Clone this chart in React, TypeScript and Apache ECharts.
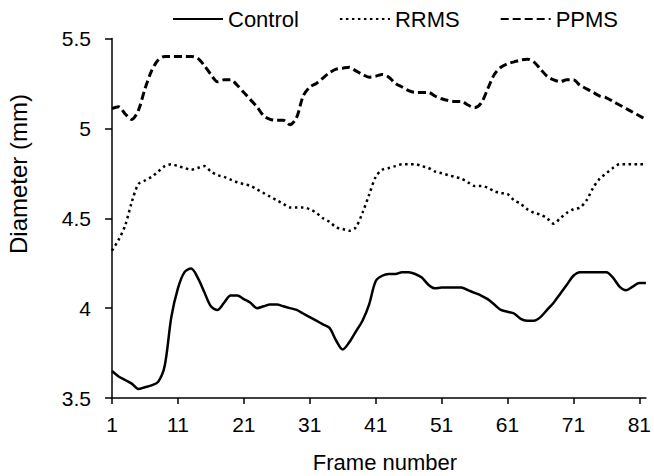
import React, { useEffect, useRef } from "react";
import * as echarts from "echarts";

const frames: string[] = Array.from({ length: 82 }, (_, i) => String(i + 1));

const control: number[] = [
  3.65, 3.62, 3.6, 3.58, 3.55, 3.56, 3.57, 3.59, 3.68, 3.95,
  4.11, 4.2, 4.22, 4.17, 4.09, 4.01, 3.99, 4.03, 4.07, 4.07,
  4.05, 4.03, 4.0, 4.01, 4.02, 4.02, 4.01, 4.0, 3.99, 3.97,
  3.95, 3.93, 3.91, 3.89, 3.82, 3.77, 3.81, 3.87, 3.93, 4.02,
  4.15, 4.18, 4.19, 4.19, 4.2, 4.2, 4.19, 4.17, 4.13, 4.11,
  4.115, 4.115, 4.115, 4.115, 4.1, 4.085, 4.07, 4.05, 4.02, 3.99,
  3.98, 3.97, 3.94, 3.93, 3.93, 3.95, 3.99, 4.03, 4.08, 4.13,
  4.18, 4.2, 4.2, 4.2, 4.2, 4.2, 4.17, 4.12, 4.1, 4.12,
  4.14, 4.14,
];

const rrms: number[] = [
  4.32, 4.38, 4.46, 4.59, 4.69, 4.71, 4.73, 4.76, 4.79, 4.8,
  4.79, 4.78, 4.77, 4.78, 4.79, 4.76, 4.74, 4.73, 4.715, 4.7,
  4.69, 4.68, 4.66, 4.64, 4.62, 4.6, 4.58, 4.56, 4.56, 4.56,
  4.55, 4.53, 4.5, 4.48, 4.45, 4.44, 4.43, 4.45, 4.53, 4.63,
  4.73, 4.77, 4.78, 4.79, 4.8, 4.8, 4.8, 4.79, 4.78, 4.76,
  4.75, 4.74, 4.73, 4.72, 4.7, 4.68, 4.68, 4.67, 4.65, 4.64,
  4.635, 4.6, 4.58, 4.55, 4.53, 4.52, 4.5, 4.47, 4.5, 4.53,
  4.55, 4.56, 4.6, 4.67, 4.72, 4.75, 4.78, 4.8, 4.8, 4.8,
  4.8, 4.8,
];

const ppms: number[] = [
  5.11, 5.12, 5.08, 5.05, 5.1, 5.22, 5.32, 5.38, 5.4, 5.4,
  5.4, 5.4, 5.4, 5.39, 5.35, 5.3, 5.26, 5.27, 5.27, 5.24,
  5.2, 5.16, 5.12, 5.07, 5.05, 5.045, 5.045, 5.02, 5.06, 5.18,
  5.23, 5.25, 5.28, 5.31, 5.33, 5.335, 5.34, 5.32, 5.3, 5.285,
  5.29, 5.3, 5.285, 5.25, 5.23, 5.21, 5.2, 5.2, 5.2, 5.18,
  5.165, 5.155, 5.15, 5.15, 5.13, 5.115, 5.14, 5.22, 5.3, 5.34,
  5.36, 5.37, 5.38, 5.385, 5.37, 5.33, 5.29, 5.27, 5.26, 5.27,
  5.27, 5.24, 5.22, 5.2, 5.18, 5.17, 5.15, 5.13, 5.11, 5.09,
  5.07, 5.05,
];

const seriesNames = ["Control", "RRMS", "PPMS"];
const xTitle = "Frame number";
const yTitle = "Diameter (mm)";

const FONT = "'Liberation Sans', Arial, Helvetica, sans-serif";

export default function App() {
  const ref = useRef<HTMLDivElement>(null);

  useEffect(() => {
    if (!ref.current) return;
    const chart = echarts.init(ref.current, undefined, { renderer: "svg" });
    chart.setOption({
      animation: false,
      backgroundColor: "#fff",
      textStyle: { fontFamily: FONT, color: "#000" },
      grid: { left: 112, right: 5, top: 38.5, bottom: 78, containLabel: false },
      legend: {
        data: seriesNames,
        left: 167,
        top: 3,
        itemWidth: 50,
        itemHeight: 14,
        itemGap: 40,
        itemStyle: { color: "transparent", borderWidth: 0, opacity: 0 },
        textStyle: { fontSize: 22, color: "#000", fontFamily: FONT },
      },
      xAxis: {
        type: "category",
        data: frames,
        boundaryGap: false,
        axisLine: { lineStyle: { color: "#000", width: 1.5 } },
        axisTick: { show: true, interval: 9, length: 6, lineStyle: { color: "#000", width: 1.5 } },
        axisLabel: { interval: 9, fontSize: 21, color: "#000", margin: 16, fontFamily: FONT },
        splitLine: { show: false },
      },
      yAxis: {
        type: "value",
        min: 3.5,
        max: 5.5,
        interval: 0.5,
        axisLine: { show: true, lineStyle: { color: "#000", width: 1.5 } },
        axisTick: { show: true, length: 7, lineStyle: { color: "#000", width: 1.5 } },
        axisLabel: { fontSize: 21, color: "#000", margin: 21, fontFamily: FONT },
        splitLine: { show: false },
      },
      graphic: [
        {
          type: "text",
          x: 385,
          y: 462,
          style: {
            text: xTitle,
            fontSize: 22,
            fontFamily: FONT,
            fill: "#000",
            align: "center",
            verticalAlign: "middle",
          },
        },
        {
          type: "text",
          x: 18,
          y: 174,
          rotation: Math.PI / 2,
          style: {
            text: yTitle,
            fontSize: 24,
            fontFamily: FONT,
            fill: "#000",
            align: "center",
            verticalAlign: "middle",
          },
        },
      ],
      series: [
        {
          name: seriesNames[0],
          type: "line",
          data: control,
          symbol: "none",
          smooth: 0.3,
          lineStyle: { color: "#000", width: 2.5, type: "solid" },
          itemStyle: { color: "#000" },
        },
        {
          name: seriesNames[1],
          type: "line",
          data: rrms,
          symbol: "none",
          smooth: 0.3,
          lineStyle: { color: "#000", width: 2.5, type: [2.5, 3.5] },
          itemStyle: { color: "#000" },
        },
        {
          name: seriesNames[2],
          type: "line",
          data: ppms,
          symbol: "none",
          smooth: 0.3,
          lineStyle: { color: "#000", width: 3, type: [8, 4] },
          itemStyle: { color: "#000" },
        },
      ],
    });
    return () => chart.dispose();
  }, []);

  return (
    <div
      ref={ref}
      style={{ position: "fixed", left: 0, top: 0, width: 654, height: 476, background: "#fff" }}
    />
  );
}
